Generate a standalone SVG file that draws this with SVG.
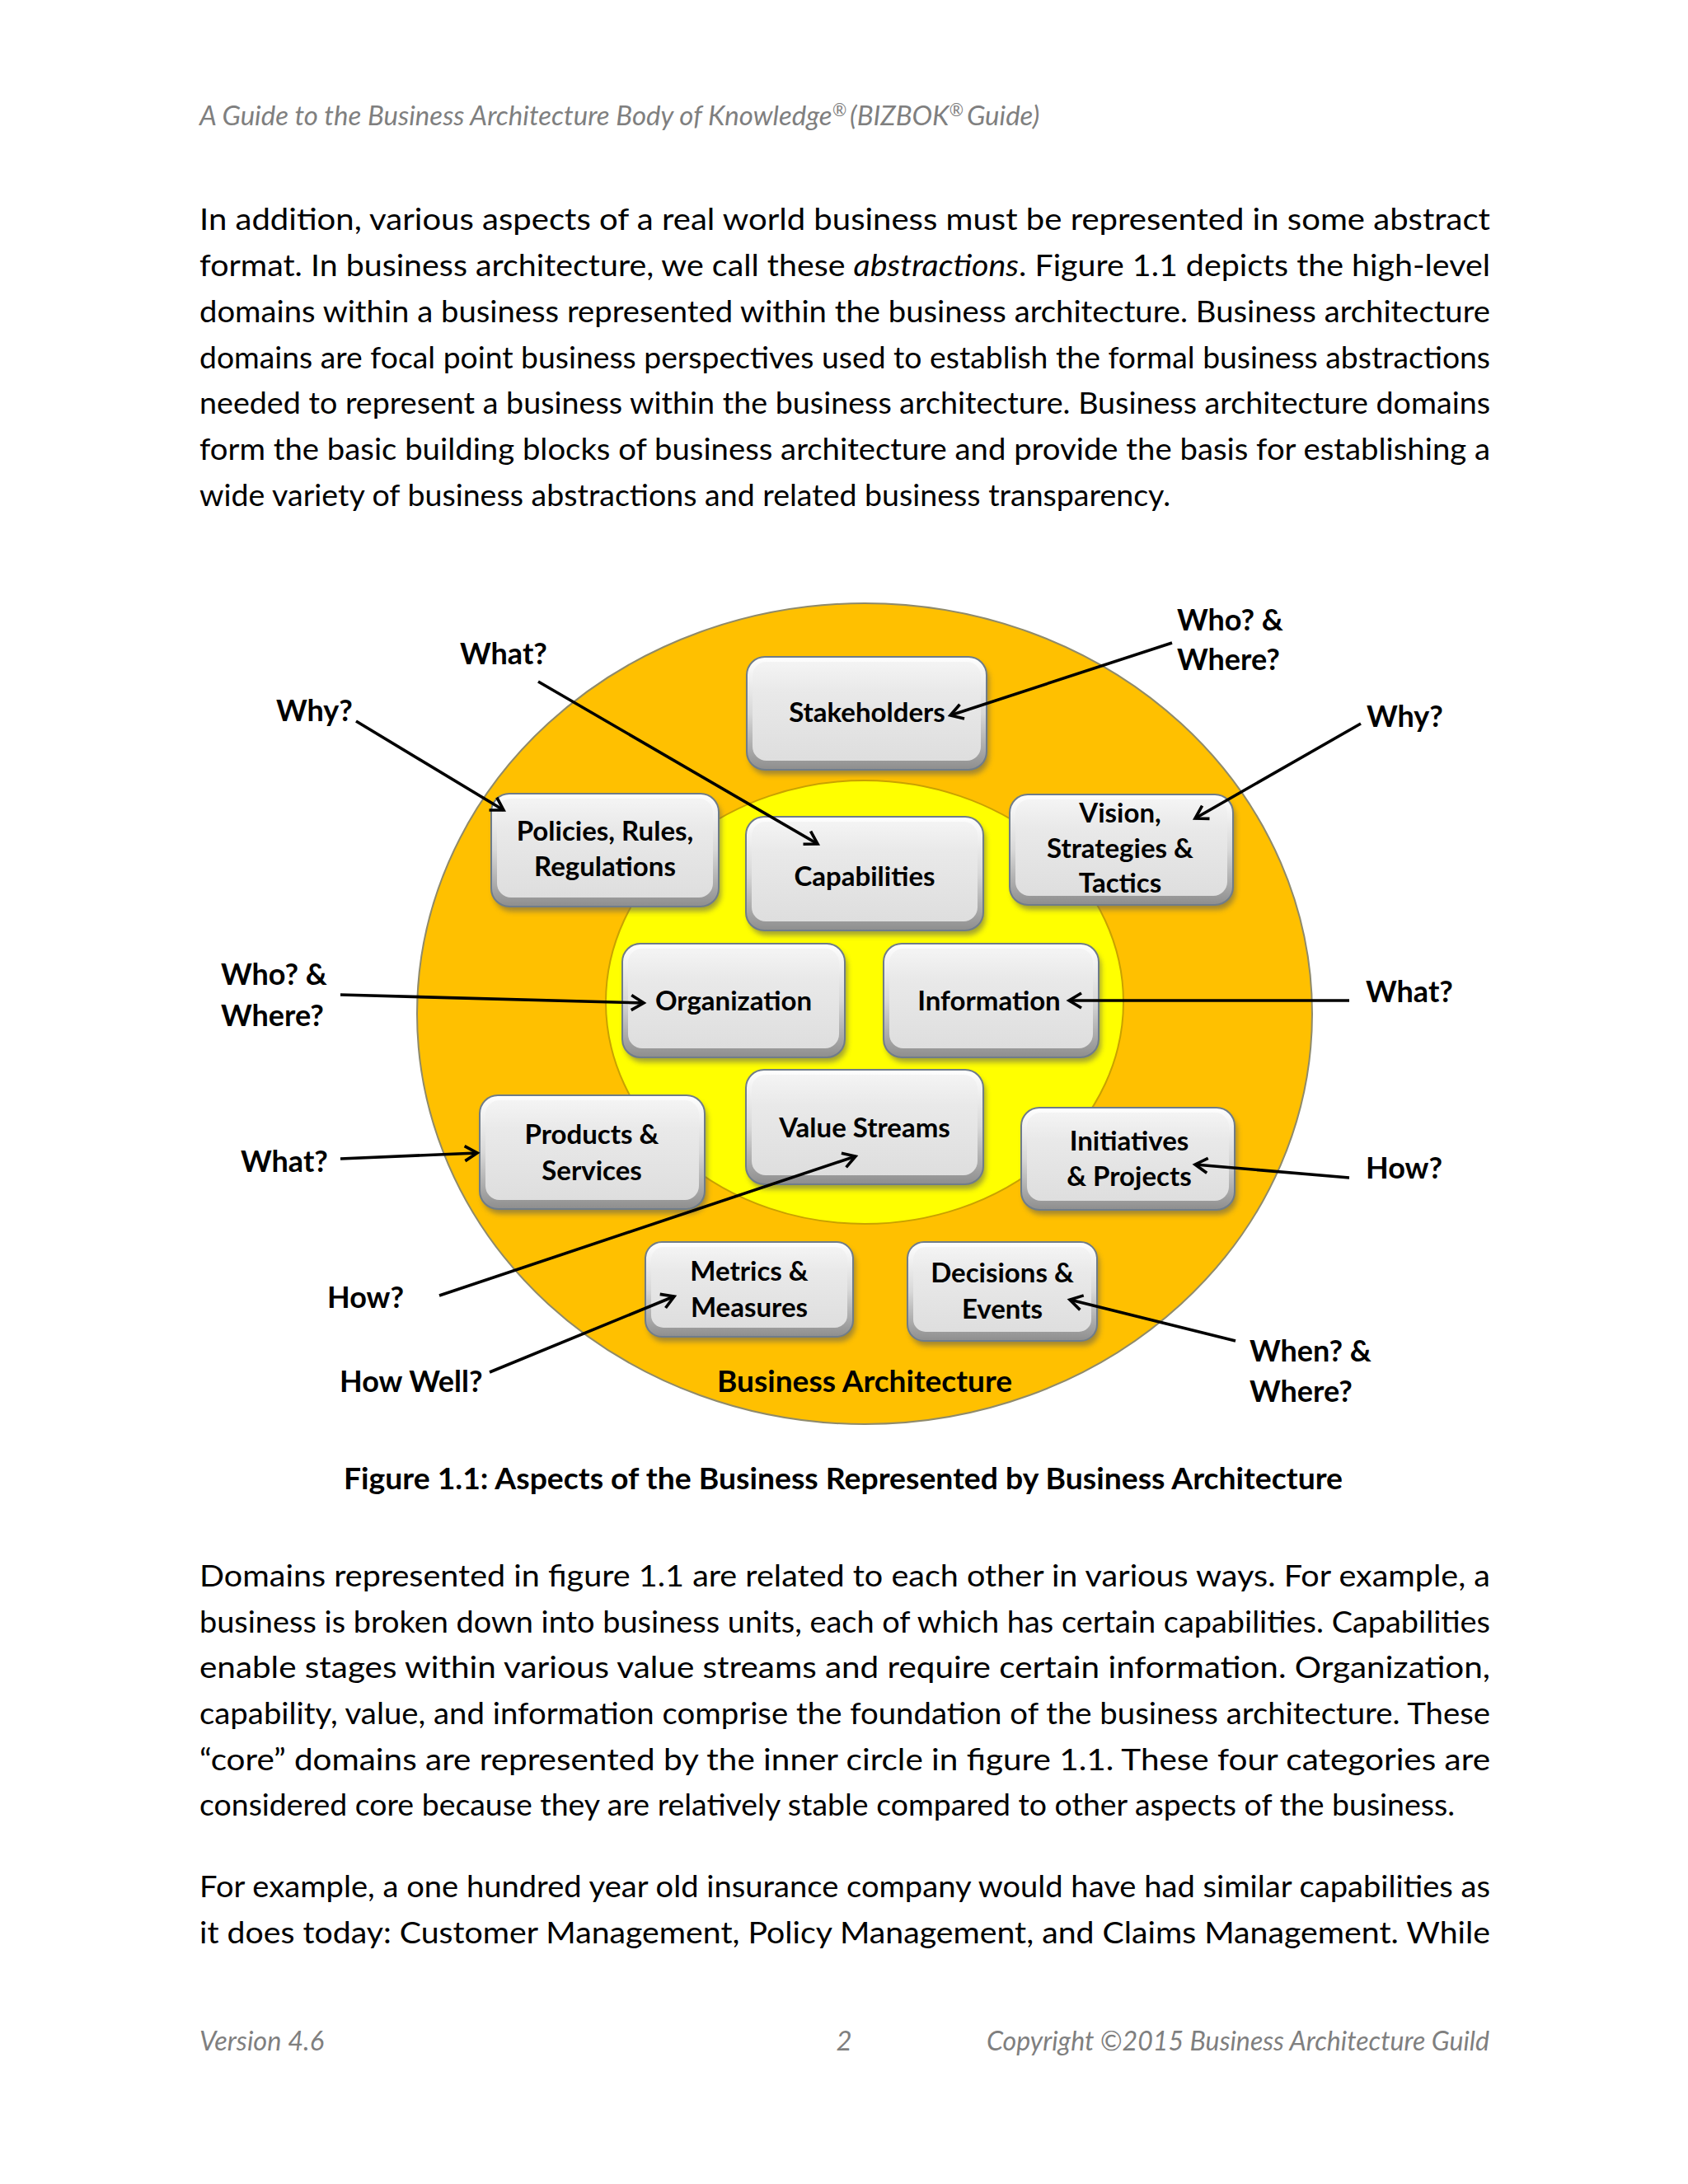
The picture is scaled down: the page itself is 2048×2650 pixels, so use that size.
<svg xmlns="http://www.w3.org/2000/svg" width="2048" height="2650" viewBox="0 0 2048 2650">
<style>
.hdr{font-family:Lato,"Liberation Sans",sans-serif;font-style:italic;font-size:33px;fill:#7f7f7f}
.sup{font-size:21px}
.body{font-family:Lato,"Liberation Sans",sans-serif;font-size:37px;fill:#000}
.cap{font-family:Lato,"Liberation Sans",sans-serif;font-size:37px;font-weight:bold;fill:#000}
.lbl{font-family:Lato,"Liberation Sans",sans-serif;font-size:36px;font-weight:bold;fill:#000}
.bt{font-family:Lato,"Liberation Sans",sans-serif;font-size:33px;font-weight:bold;fill:#000;text-anchor:middle}
.outer{fill:url(#bevel);stroke:#6f7c89;stroke-width:2}
.inner{fill:url(#face)}
.shadow{fill:#5a5a5a;opacity:0.55;filter:url(#blur)}
.conn{stroke:#000;stroke-width:3.6;fill:none;marker-end:url(#arr)}
</style>
<defs>
<linearGradient id="bevel" x1="0" y1="0" x2="0" y2="1">
<stop offset="0" stop-color="#ffffff"/>
<stop offset="0.5" stop-color="#d8d8d8"/>
<stop offset="1" stop-color="#8e8e8e"/>
</linearGradient>
<linearGradient id="face" x1="0" y1="0" x2="0" y2="1">
<stop offset="0" stop-color="#f4f4f4"/>
<stop offset="0.3" stop-color="#e9e9e9"/>
<stop offset="1" stop-color="#dedede"/>
</linearGradient>
<filter id="blur" x="-10%" y="-10%" width="120%" height="130%"><feGaussianBlur stdDeviation="3"/></filter>
<marker id="arr" markerWidth="26" markerHeight="26" refX="20" refY="13" orient="auto" markerUnits="userSpaceOnUse">
<path d="M5,4 L20,13 L5,22" fill="none" stroke="#000" stroke-width="3.6"/>
</marker>
</defs>
<rect width="2048" height="2650" fill="#fff"/>

<text class="hdr" x="242" y="152">A Guide to the Business Architecture Body of Knowledge<tspan class="sup" dy="-11">®</tspan><tspan dx="4" dy="11">(BIZBOK</tspan><tspan class="sup" dy="-11">®</tspan><tspan dx="4" dy="11">Guide)</tspan></text>

<g id="para1">
<text class="body" x="242" y="279" textLength="1566" lengthAdjust="spacingAndGlyphs">In addition, various aspects of a real world business must be represented in some abstract</text>
<text class="body" x="242" y="335" textLength="1566" lengthAdjust="spacingAndGlyphs">format. In business architecture, we call these <tspan font-style="italic">abstractions</tspan>. Figure 1.1 depicts the high-level</text>
<text class="body" x="242" y="391" textLength="1566" lengthAdjust="spacingAndGlyphs">domains within a business represented within the business architecture. Business architecture</text>
<text class="body" x="242" y="447" textLength="1566" lengthAdjust="spacingAndGlyphs">domains are focal point business perspectives used to establish the formal business abstractions</text>
<text class="body" x="242" y="502" textLength="1566" lengthAdjust="spacingAndGlyphs">needed to represent a business within the business architecture. Business architecture domains</text>
<text class="body" x="242" y="558" textLength="1566" lengthAdjust="spacingAndGlyphs">form the basic building blocks of business architecture and provide the basis for establishing a</text>
<text class="body" x="242" y="614" textLength="1178" lengthAdjust="spacingAndGlyphs">wide variety of business abstractions and related business transparency.</text>
</g>

<g id="rings">
<ellipse cx="1049" cy="1230" rx="543" ry="498" fill="#ffc000" stroke="#8f8a6a" stroke-width="2"/>
<ellipse cx="1049" cy="1216" rx="314" ry="269" fill="#ffff00" stroke="#c9a200" stroke-width="2"/>
</g>

<g id="node-stakeholders">
<rect class="shadow" x="909" y="803" width="291" height="137" rx="22"/>
<rect class="outer" x="906" y="797" width="291" height="137" rx="22"/>
<rect class="inner" x="913" y="803" width="277" height="120" rx="17"/>
<text class="bt" x="1052" y="876">Stakeholders</text>
</g>
<g id="node-policies">
<rect class="shadow" x="599" y="969" width="276" height="137" rx="22"/>
<rect class="outer" x="596" y="963" width="276" height="137" rx="22"/>
<rect class="inner" x="603" y="969" width="262" height="120" rx="17"/>
<text class="bt" x="734" y="1020">Policies, Rules,</text>
<text class="bt" x="734" y="1063">Regulations</text>
</g>
<g id="node-capabilities">
<rect class="shadow" x="908" y="997" width="288" height="138" rx="22"/>
<rect class="outer" x="905" y="991" width="288" height="138" rx="22"/>
<rect class="inner" x="912" y="997" width="274" height="121" rx="17"/>
<text class="bt" x="1049" y="1075">Capabilities</text>
</g>
<g id="node-vision">
<rect class="shadow" x="1228" y="970" width="271" height="134" rx="22"/>
<rect class="outer" x="1225" y="964" width="271" height="134" rx="22"/>
<rect class="inner" x="1232" y="970" width="257" height="117" rx="17"/>
<text class="bt" x="1359" y="998">Vision,</text>
<text class="bt" x="1359" y="1041">Strategies &amp;</text>
<text class="bt" x="1359" y="1083">Tactics</text>
</g>
<g id="node-organization">
<rect class="shadow" x="758" y="1151" width="270" height="138" rx="22"/>
<rect class="outer" x="755" y="1145" width="270" height="138" rx="22"/>
<rect class="inner" x="762" y="1151" width="256" height="121" rx="17"/>
<text class="bt" x="890" y="1226">Organization</text>
</g>
<g id="node-information">
<rect class="shadow" x="1075" y="1151" width="261" height="138" rx="22"/>
<rect class="outer" x="1072" y="1145" width="261" height="138" rx="22"/>
<rect class="inner" x="1079" y="1151" width="247" height="121" rx="17"/>
<text class="bt" x="1200" y="1226">Information</text>
</g>
<g id="node-products">
<rect class="shadow" x="585" y="1335" width="273" height="138" rx="22"/>
<rect class="outer" x="582" y="1329" width="273" height="138" rx="22"/>
<rect class="inner" x="589" y="1335" width="259" height="121" rx="17"/>
<text class="bt" x="718" y="1388">Products &amp;</text>
<text class="bt" x="718" y="1432">Services</text>
</g>
<g id="node-valuestreams">
<rect class="shadow" x="908" y="1304" width="288" height="139" rx="22"/>
<rect class="outer" x="905" y="1298" width="288" height="139" rx="22"/>
<rect class="inner" x="912" y="1304" width="274" height="122" rx="17"/>
<text class="bt" x="1049" y="1380">Value Streams</text>
</g>
<g id="node-initiatives">
<rect class="shadow" x="1242" y="1350" width="259" height="124" rx="22"/>
<rect class="outer" x="1239" y="1344" width="259" height="124" rx="22"/>
<rect class="inner" x="1246" y="1350" width="245" height="107" rx="17"/>
<text class="bt" x="1370" y="1396">Initiatives</text>
<text class="bt" x="1370" y="1439">&amp; Projects</text>
</g>
<g id="node-metrics">
<rect class="shadow" x="786" y="1513" width="252" height="115" rx="20"/>
<rect class="outer" x="783" y="1507" width="252" height="115" rx="20"/>
<rect class="inner" x="790" y="1513" width="238" height="98" rx="15"/>
<text class="bt" x="909" y="1554">Metrics &amp;</text>
<text class="bt" x="909" y="1598">Measures</text>
</g>
<g id="node-decisions">
<rect class="shadow" x="1104" y="1513" width="230" height="120" rx="20"/>
<rect class="outer" x="1101" y="1507" width="230" height="120" rx="20"/>
<rect class="inner" x="1108" y="1513" width="216" height="103" rx="15"/>
<text class="bt" x="1216" y="1556">Decisions &amp;</text>
<text class="bt" x="1216" y="1600">Events</text>
</g>

<g id="connectors">
<line class="conn" x1="653" y1="827" x2="992" y2="1024"/>
<line class="conn" x1="432" y1="875" x2="611" y2="983"/>
<line class="conn" x1="1422" y1="780" x2="1153" y2="868"/>
<line class="conn" x1="1651" y1="878" x2="1450" y2="993"/>
<line class="conn" x1="413" y1="1207" x2="781" y2="1217"/>
<line class="conn" x1="1637" y1="1214" x2="1297" y2="1214"/>
<line class="conn" x1="413" y1="1406" x2="579" y2="1399"/>
<line class="conn" x1="1637" y1="1429" x2="1450" y2="1413"/>
<line class="conn" x1="533" y1="1572" x2="1038" y2="1403"/>
<line class="conn" x1="594" y1="1665" x2="818" y2="1573"/>
<line class="conn" x1="1499" y1="1627" x2="1298" y2="1577"/>
</g>

<g id="labels">
<text class="lbl" x="558" y="806">What?</text>
<text class="lbl" x="335" y="875">Why?</text>
<text class="lbl" x="1428" y="765">Who? &amp;</text>
<text class="lbl" x="1428" y="813">Where?</text>
<text class="lbl" x="1658" y="882">Why?</text>
<text class="lbl" x="268" y="1195">Who? &amp;</text>
<text class="lbl" x="268" y="1245">Where?</text>
<text class="lbl" x="1657" y="1216">What?</text>
<text class="lbl" x="292" y="1422">What?</text>
<text class="lbl" x="1657" y="1430">How?</text>
<text class="lbl" x="397" y="1587">How?</text>
<text class="lbl" x="412" y="1689">How Well?</text>
<text class="lbl" x="1516" y="1652">When? &amp;</text>
<text class="lbl" x="1516" y="1701">Where?</text>
<text class="lbl" x="870" y="1689" textLength="358" lengthAdjust="spacingAndGlyphs">Business Architecture</text>
</g>

<text class="cap" x="417" y="1807" textLength="1212" lengthAdjust="spacingAndGlyphs">Figure 1.1: Aspects of the Business Represented by Business Architecture</text>

<g id="para2">
<text class="body" x="242" y="1925" textLength="1566" lengthAdjust="spacingAndGlyphs">Domains represented in figure 1.1 are related to each other in various ways. For example, a</text>
<text class="body" x="242" y="1981" textLength="1566" lengthAdjust="spacingAndGlyphs">business is broken down into business units, each of which has certain capabilities. Capabilities</text>
<text class="body" x="242" y="2036" textLength="1566" lengthAdjust="spacingAndGlyphs">enable stages within various value streams and require certain information. Organization,</text>
<text class="body" x="242" y="2092" textLength="1566" lengthAdjust="spacingAndGlyphs">capability, value, and information comprise the foundation of the business architecture. These</text>
<text class="body" x="242" y="2148" textLength="1566" lengthAdjust="spacingAndGlyphs">“core” domains are represented by the inner circle in figure 1.1. These four categories are</text>
<text class="body" x="242" y="2203" textLength="1523" lengthAdjust="spacingAndGlyphs">considered core because they are relatively stable compared to other aspects of the business.</text>
</g>

<g id="para3">
<text class="body" x="242" y="2302" textLength="1566" lengthAdjust="spacingAndGlyphs">For example, a one hundred year old insurance company would have had similar capabilities as</text>
<text class="body" x="242" y="2358" textLength="1566" lengthAdjust="spacingAndGlyphs">it does today: Customer Management, Policy Management, and Claims Management. While</text>
</g>

<g id="footer">
<text class="hdr" x="242" y="2488" textLength="151" lengthAdjust="spacingAndGlyphs">Version 4.6</text>
<text class="hdr" x="1024" y="2488" text-anchor="middle">2</text>
<text class="hdr" x="1197" y="2488" textLength="610" lengthAdjust="spacingAndGlyphs">Copyright ©2015 Business Architecture Guild</text>
</g>
</svg>
